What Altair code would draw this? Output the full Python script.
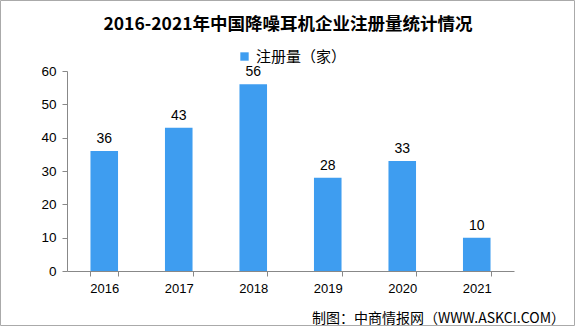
import altair as alt
import pandas as pd

years = ["2016", "2017", "2018", "2019", "2020", "2021"]
counts = [36, 43, 56, 28, 33, 10]
series_name = "注册量（家）"
title_text = "2016-2021年中国降噪耳机企业注册量统计情况"
source_text = "制图：中商情报网（WWW.ASKCI.COM）"

df = pd.DataFrame({"year": years, "count": counts, "series": [series_name] * len(years)})
one = pd.DataFrame({"k": [0]})

W, H = 447, 200
BLUE = "#3E9DF0"

x = alt.X("year:N", sort=years, title=None,
          scale=alt.Scale(paddingInner=0.63, paddingOuter=0.315),
          axis=alt.Axis(labelAngle=0, labelFontSize=13, labelFont="Liberation Sans",
                        labelColor="#000000", domainColor="#888888", tickColor="#888888",
                        tickSize=5, tickBand="extent", labelPadding=6))
y = alt.Y("count:Q", title=None,
          scale=alt.Scale(domain=[0, 60]),
          axis=alt.Axis(values=[0, 10, 20, 30, 40, 50, 60], tickCount=7, labelOverlap=False,
                        grid=False, labelFontSize=13.5,
                        labelFont="Liberation Sans", labelColor="#000000",
                        domainColor="#888888", tickColor="#888888", tickSize=5, labelPadding=6))

bars = alt.Chart(df).mark_bar(color=BLUE).encode(
    x=x, y=y,
    color=alt.Color("series:N", scale=alt.Scale(range=[BLUE]), title=None,
                    legend=alt.Legend(orient="none", legendX=170, legendY=-22,
                                      symbolType="square", symbolSize=70,
                                      labelFontSize=15, labelFont="Noto Sans CJK SC",
                                      labelColor="#000000", symbolStrokeWidth=0))
)

labels = alt.Chart(df).mark_text(dy=-12, fontSize=14, font="Liberation Sans", color="#000000").encode(
    x=x, y=y, text="count:Q"
)

title = alt.Chart(one).mark_text(fontSize=17.5, fontWeight="bold", font="Noto Sans CJK SC",
                                 color="#000000").encode(
    x=alt.value(221), y=alt.value(-46), text=alt.value(title_text)
)

source = alt.Chart(one).mark_text(fontSize=14, fontWeight="normal", font="Noto Sans CJK SC",
                                  color="#000000", align="right").encode(
    x=alt.value(498), y=alt.value(248), text=alt.value(source_text)
)

frame = alt.Chart(one).mark_rect(fill=None, stroke="#AAAAAA", strokeWidth=1).encode(
    x=alt.value(-66.5), x2=alt.value(507.5), y=alt.value(-70.5), y2=alt.value(254.5)
)

chart = alt.layer(frame, bars, labels, title, source).properties(
    width=W, height=H,
    autosize=alt.AutoSizeParams(type="none"),
    padding={"left": 67, "top": 71, "right": 61, "bottom": 55},
    background="#FFFFFF"
).configure_view(stroke=None)

chart.save("out.html", embed_options={"renderer": "svg", "actions": False})
